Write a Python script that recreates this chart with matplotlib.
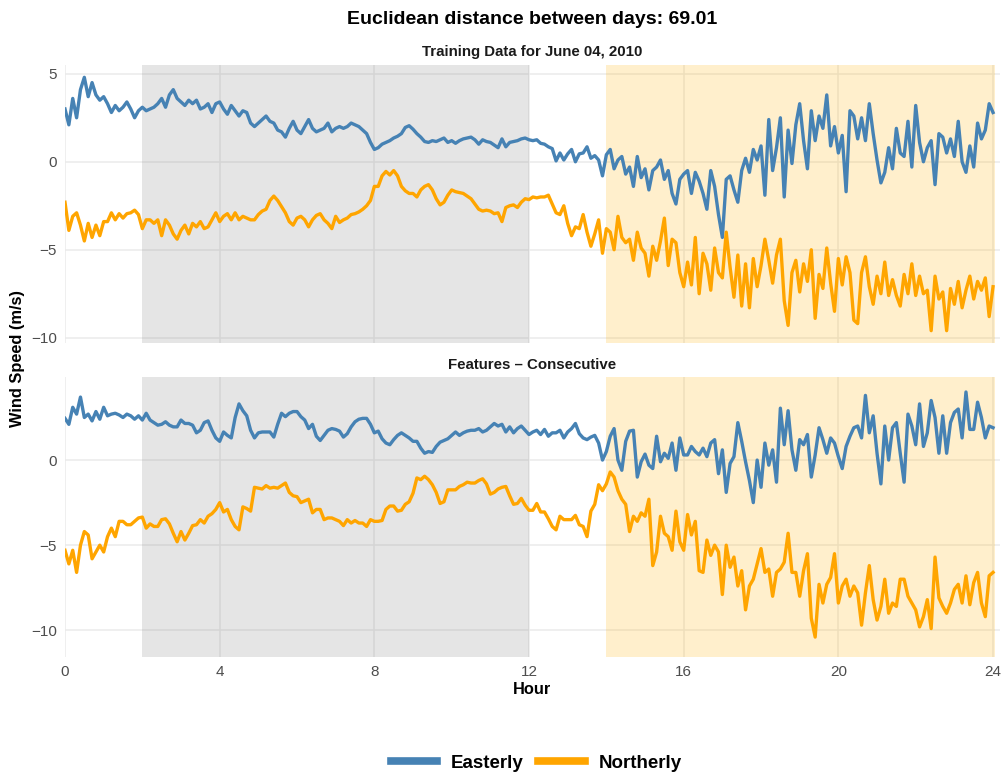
import numpy as np
import matplotlib
matplotlib.use("Agg")
import matplotlib.pyplot as plt
from matplotlib.lines import Line2D

plt.rcParams["font.family"] = ["Liberation Sans", "DejaVu Sans"]

# time axis: one reading every 6 minutes
hours = np.round(np.arange(241) * 0.1, 1)

# training day (top panel)
train_east = [
    3.0, 2.1, 3.6, 2.5, 4.1, 4.8, 3.7, 4.5, 3.8, 3.5,
    3.7, 3.3, 2.8, 3.2, 2.9, 3.1, 3.4, 3.0, 2.5, 2.9,
    3.1, 2.9, 3.0, 3.1, 3.3, 3.6, 3.1, 3.8, 4.1, 3.6,
    3.4, 3.2, 3.5, 3.3, 3.5, 3.0, 3.1, 3.3, 2.8, 3.3,
    3.4, 3.0, 2.7, 3.2, 2.9, 2.6, 2.9, 2.8, 2.2, 2.0,
    2.2, 2.4, 2.6, 2.3, 2.2, 1.8, 1.7, 1.4, 1.9, 2.3,
    1.8, 1.6, 2.0, 2.4, 1.9, 1.7, 1.8, 1.9, 2.2, 1.7,
    1.9, 2.0, 1.9, 2.0, 2.2, 2.1, 2.0, 1.8, 1.6, 1.1,
    0.7,
    0.8, 1.0, 1.1, 1.2, 1.35, 1.45, 1.6, 1.95, 2.05, 1.85,
    1.6, 1.4, 1.15, 1.1, 1.2, 1.15, 1.25, 1.35, 1.1, 1.2,
    1.05, 1.2, 1.3, 1.35, 1.4, 1.25, 1.0, 1.25, 1.15, 1.1,
    0.95, 0.8, 1.3, 0.85, 1.1, 1.15, 1.2, 1.3, 1.35, 1.25,
    1.2, 1.25, 1.05, 1.0, 0.85, 0.75, 0.05, 0.5, 0.1, 0.45,
    0.7, 0.0, 0.45, 0.5, 0.85, 0.2, 0.35, 0.1, -0.8, 0.4,
    0.7, -0.4, 0.1, 0.3, -0.7, -0.3, -1.4, 0.3, -0.9, -0.4,
    -1.6, -0.5, -0.3, 0.1, -1.0, -0.5, -1.8, -2.4, -1.0, -0.7,
    -0.5, -1.8, -0.6, -1.1, -1.8, -2.7, -0.5, -1.4, -3.0, -4.3,
    -1.0, -0.8, -1.6, -2.3, -0.5, 0.2, -0.6, 0.7, 0.1, 0.9,
    -1.9, 2.4, -0.5, 0.8, 2.5, -2.0, 1.8, -0.1, 2.1, 3.3,
    1.2, -0.4, 2.9, 1.2, 2.6, 1.9, 3.8, 0.9, 2.0, 0.5,
    1.5, -1.7, 2.9, 2.6, 1.3, 2.5, 1.2, 3.3, 1.6, 0.1,
    -1.2, -0.6, 0.8, -0.4, 1.9, 0.5, 0.3, 2.3, -0.3, 3.2,
    1.1, 0.0, 0.8, 1.2, -1.3, 1.6, 1.4, 0.5, 1.3, 0.3,
    2.3, 0.0, -0.6, 0.9, -0.3, 2.2, 1.3, 1.8, 3.3, 2.8,
]
train_north = [
    -2.3, -3.9, -3.1, -2.9, -3.6, -4.5, -3.5, -4.3, -3.6, -4.2,
    -3.4, -3.4, -2.9, -3.3, -2.95, -3.2, -2.95, -2.9, -2.75, -3.0,
    -3.8, -3.3, -3.3, -3.5, -3.3, -4.2, -3.3, -3.6, -4.1, -4.4,
    -3.9, -3.6, -4.1, -3.5, -3.7, -3.4, -3.8, -3.7, -3.3, -2.9,
    -3.4, -3.1, -2.95, -3.3, -2.9, -3.3, -3.1, -3.2, -3.3, -3.3,
    -3.0, -2.8, -2.7, -2.2, -1.95, -2.2, -2.55, -2.9, -3.4, -3.6,
    -3.2, -3.1, -3.3, -3.7, -3.3, -3.05, -2.95, -3.3, -3.5, -3.8,
    -3.1, -3.45, -3.3, -3.2, -3.0, -2.95, -2.85, -2.7, -2.5, -2.2,
    -1.4,
    -1.4, -0.8, -0.55, -0.75, -0.5, -0.8, -1.4, -1.65, -1.8, -1.8,
    -2.0, -1.6, -1.4, -1.3, -1.6, -2.1, -2.45, -2.3, -1.9, -1.6,
    -1.7, -1.75, -1.8, -1.95, -2.1, -2.4, -2.7, -2.8, -2.75, -2.8,
    -2.95, -2.9, -3.4, -2.6, -2.5, -2.45, -2.6, -2.3, -2.1, -2.15,
    -2.0, -2.05, -2.0, -2.0, -1.9, -2.4, -2.9, -3.0, -2.5, -3.5,
    -4.2, -3.7, -3.8, -3.0, -4.0, -4.8, -4.1, -3.3, -5.2, -3.8,
    -4.0, -5.0, -3.1, -4.3, -4.6, -4.4, -5.6, -4.0, -4.9, -5.2,
    -6.5, -4.8, -5.6, -4.5, -3.2, -5.9, -4.4, -4.6, -6.3, -7.1,
    -5.7, -7.0, -4.3, -7.5, -5.2, -5.8, -7.3, -4.9, -6.3, -6.6,
    -4.0, -6.0, -7.7, -5.3, -8.2, -5.8, -8.3, -5.5, -7.1, -5.9,
    -4.4, -5.6, -6.9, -5.3, -4.4, -7.9, -9.3, -6.3, -5.6, -7.4,
    -5.8, -6.8, -5.0, -8.9, -6.4, -7.2, -4.9, -6.9, -8.5, -5.5,
    -7.0, -5.4, -6.3, -9.0, -9.2, -6.3, -5.4, -7.1, -8.1, -6.5,
    -7.5, -5.7, -7.6, -6.7, -7.6, -8.2, -6.4, -7.5, -5.8, -7.6,
    -6.5, -7.5, -7.3, -9.6, -6.5, -7.8, -7.4, -9.6, -7.2, -8.1,
    -6.8, -8.3, -7.3, -6.5, -7.8, -6.8, -7.3, -6.6, -8.8, -7.1,
]

# feature day (bottom panel)
feat_east = [
    2.45, 2.1, 3.1, 2.7, 3.7, 2.5, 2.7, 2.3, 2.85, 2.4,
    3.1, 2.6, 2.7, 2.75, 2.65, 2.5, 2.7, 2.6, 2.4, 2.6,
    2.35, 2.75, 2.35, 2.2, 2.05, 2.1, 2.25, 2.05, 1.95, 1.95,
    2.35, 2.15, 2.15, 2.05, 1.6, 1.75, 2.2, 2.3, 1.75, 1.3,
    1.1, 1.65, 1.45, 1.3, 2.5, 3.3, 2.9, 2.6, 1.75, 1.3,
    1.6, 1.65, 1.65, 1.65, 1.35, 2.1, 2.75, 2.55, 2.75, 2.85,
    2.85, 2.55, 2.35, 1.85, 2.1, 1.4, 1.15, 1.45, 1.75, 1.85,
    1.8, 1.7, 1.35, 1.55, 1.95, 2.25, 2.4, 2.45, 2.45, 2.1,
    1.6,
    1.7, 1.25, 1.0, 0.9, 1.2, 1.45, 1.6, 1.45, 1.3, 1.1,
    1.1, 0.7, 0.4, 0.5, 0.45, 0.8, 1.05, 1.15, 1.25, 1.45,
    1.65, 1.45, 1.6, 1.7, 1.75, 1.75, 1.85, 1.65, 1.75, 1.95,
    2.15, 2.0, 2.1, 1.65, 1.95, 1.6, 1.85, 2.0, 1.75, 1.5,
    1.65, 1.75, 1.5, 1.8, 1.4, 1.6, 1.6, 1.75, 1.3, 1.65,
    1.85, 2.15, 1.55, 1.3, 1.2, 1.35, 1.45, 1.0, 0.0, 0.5,
    1.4, 1.85, 0.0, -0.6, 1.1, 1.7, 1.75, -1.0, -0.1, 0.35,
    -0.3, -0.5, 1.4, -0.1, 0.4, 0.1, 1.0, -0.6, 1.3, 0.3,
    0.3, 0.8, 0.5, 0.3, 0.7, 0.2, 1.0, 1.2, -0.8, 0.6,
    -1.9, -0.2, 0.2, 2.2, 1.1, -0.1, -1.2, -2.5, 0.0, -1.6,
    1.0, -0.3, 0.6, -1.3, 3.05, 0.9, 2.9, 0.6, -0.6, 1.2,
    0.9, 1.5, -1.0, 0.3, 1.9, 1.2, 0.4, 1.3, 1.0, 0.2,
    -0.5, 0.8, 1.4, 1.9, 2.0, 1.3, 3.8, 1.6, 2.6, 0.4,
    -1.4, 2.0, 0.0, 1.9, 2.2, 0.4, -1.3, 2.7, 2.0, 0.9,
    3.3, 0.8, 1.6, 3.5, 2.5, 0.4, 2.6, 0.4, 2.2, 2.8,
    3.0, 1.3, 4.0, 1.8, 1.8, 3.4, 2.5, 1.3, 2.0, 1.9,
]
feat_north = [
    -5.3, -6.1, -5.3, -6.6, -5.0, -4.2, -4.4, -5.8, -5.4, -5.0,
    -5.4, -4.5, -4.0, -4.5, -3.6, -3.6, -3.8, -3.8, -3.6, -3.4,
    -3.35, -4.0, -3.75, -3.9, -3.9, -3.5, -3.45, -3.75, -4.3, -4.8,
    -4.2, -4.7, -4.3, -3.85, -3.8, -3.5, -3.7, -3.3, -3.15, -2.9,
    -2.5, -3.05, -2.9, -3.5, -3.9, -4.1, -2.75, -2.85, -3.0, -1.6,
    -1.65, -1.7, -1.5, -1.65, -1.6, -1.65, -1.5, -1.35, -1.9, -2.1,
    -2.15, -2.5, -2.4, -2.3, -3.1, -2.9, -2.9, -3.5, -3.4, -3.4,
    -3.5, -3.6, -3.85, -3.5, -3.7, -3.55, -3.7, -3.7, -3.9, -3.5,
    -3.6,
    -3.6, -3.55, -2.9, -2.7, -2.7, -3.0, -2.95, -2.6, -2.45, -1.95,
    -1.05, -1.15, -0.95, -1.15, -1.45, -1.9, -2.55, -2.45, -1.75, -1.75,
    -1.75, -1.55, -1.45, -1.3, -1.35, -1.35, -1.2, -1.1, -1.4, -2.0,
    -1.9, -1.7, -1.6, -1.55, -2.1, -2.6, -2.55, -2.25, -2.65, -2.95,
    -2.95, -2.55, -3.05, -3.05, -3.45, -3.9, -4.1, -3.3, -3.5, -3.5,
    -3.5, -3.25, -3.8, -3.9, -4.5, -3.0, -2.6, -1.45, -1.8, -1.4,
    -0.7, -1.0, -1.8, -2.3, -2.6, -4.2, -3.3, -3.6, -3.1, -3.3,
    -2.3, -6.2, -5.4, -3.3, -4.3, -4.5, -5.3, -3.0, -4.8, -5.3,
    -3.2, -4.4, -3.6, -6.5, -6.6, -4.7, -5.6, -5.0, -5.4, -7.9,
    -5.0, -6.3, -5.7, -7.4, -6.5, -8.8, -7.4, -7.0, -6.1, -5.2,
    -6.6, -6.4, -8.0, -6.6, -6.4, -6.0, -4.3, -6.6, -6.6, -8.0,
    -6.5, -5.5, -9.3, -10.4, -7.3, -8.4, -7.3, -6.9, -5.5, -8.4,
    -7.4, -7.0, -8.0, -7.4, -7.8, -9.7, -7.8, -6.2, -8.2, -9.4,
    -8.6, -7.0, -9.0, -8.4, -8.6, -7.0, -7.0, -8.0, -8.4, -8.8,
    -9.8, -9.2, -8.2, -9.9, -5.7, -8.1, -8.6, -9.0, -8.4, -7.6,
    -7.3, -8.4, -6.8, -8.5, -7.2, -6.6, -8.4, -9.2, -6.8, -6.6,
]

hour_ticks = [0, 4, 8, 12, 16, 20, 24]
east_col = "#4682B4"
north_col = "#FFA500"

W, H = 1003, 774
fig = plt.figure(figsize=(W / 100, H / 100), dpi=100)


def frac_box(x0, y0, x1, y1):
    return [x0 / W, 1 - y1 / H, (x1 - x0) / W, (y1 - y0) / H]


ax_top = fig.add_axes(frac_box(65, 65, 1000, 343))
ax_bot = fig.add_axes(frac_box(65, 377, 1000, 657))

panels = [
    (ax_top, train_east, train_north, (-10.3, 5.5), [5, 0, -5, -10]),
    (ax_bot, feat_east, feat_north, (-11.57, 4.88), [0, -5, -10]),
]
for ax, east, north, ylim, yt in panels:
    ax.set_xlim(0, 24.18)
    ax.set_ylim(*ylim)
    ax.set_xticks(hour_ticks)
    ax.set_yticks(yt)
    ax.grid(True, color="#EBEBEB", lw=1.1)
    ax.set_axisbelow(True)
    for s in ax.spines.values():
        s.set_visible(False)
    ax.tick_params(length=0, labelsize=11, labelcolor="#4D4D4D", pad=6)
    ax.axvspan(2, 12, color="#808080", alpha=0.2, lw=0, zorder=1)
    ax.axvspan(14, 24.05, color="#FFB000", alpha=0.2, lw=0, zorder=1)
    ax.plot(hours, east, color=east_col, lw=2.4, zorder=3)
    ax.plot(hours, north, color=north_col, lw=2.4, zorder=3)

ax_top.tick_params(labelbottom=False)
ax_bot.set_xticklabels([str(h) for h in hour_ticks])

cx = 532 / W
fig.text(cx, 1 - 19 / H, "Euclidean distance between days: 69.01",
         ha="center", va="center", fontsize=14, fontweight="bold")
fig.text(cx, 1 - 52 / H, "Training Data for June 04, 2010",
         ha="center", va="center", fontsize=10.8, fontweight="bold", color="#1A1A1A")
fig.text(cx, 1 - 365 / H, "Features \u2013 Consecutive",
         ha="center", va="center", fontsize=10.8, fontweight="bold", color="#1A1A1A")
fig.text(18 / W, 1 - 358 / H, "Wind Speed (m/s)", rotation=90,
         ha="center", va="center", fontsize=11.8, fontweight="bold")
fig.text(cx, 1 - 689 / H, "Hour", ha="center", va="center",
         fontsize=11.8, fontweight="bold")

handles = [Line2D([], [], color=east_col, lw=5.5),
           Line2D([], [], color=north_col, lw=5.5)]
fig.legend(handles, ["Easterly", "Northerly"], loc="center",
           bbox_to_anchor=(536 / W, 1 - 763 / H), ncol=2, frameon=False,
           prop={"weight": "bold", "size": 13.5}, handlelength=2.5,
           handletextpad=0.7, columnspacing=0.8)

fig.savefig("out.png", dpi=100)
